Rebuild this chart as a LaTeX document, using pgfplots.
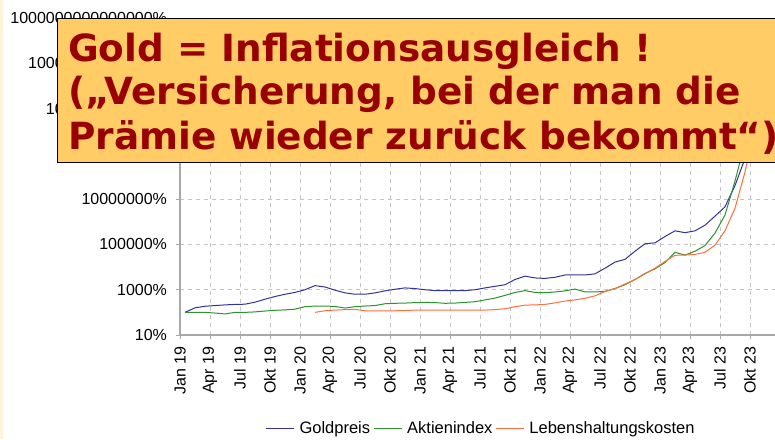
\documentclass[border=0pt]{standalone}
\usepackage{pgfplots}
\pgfplotsset{compat=1.18}
\usepackage{pgfplotstable}
\usepackage{fontspec}
\setmainfont{Liberation Sans}
\newfontfamily\boxfont{DejaVu Sans}
\definecolor{goldc}{HTML}{333399}
\definecolor{aktc}{HTML}{2E922E}
\definecolor{lebc}{HTML}{FF6F3C}
\definecolor{boxfill}{HTML}{FFCC66}
\definecolor{boxtext}{HTML}{990000}
\definecolor{gridc}{HTML}{C4C4C4}
\definecolor{axisc}{HTML}{A8A8A8}
\definecolor{stripc}{HTML}{FFF4D8}

% x = month index (Jan 19 = 0) + 0.5 ; values = log10 of percent
\pgfplotstableread{
x g a l
0.5 2.00 2.00 nan
1.5 2.20 2.00 nan
2.5 2.27 2.00 nan
3.5 2.30 1.97 nan
4.5 2.33 1.93 nan
5.5 2.35 2.00 nan
6.5 2.36 2.00 nan
7.5 2.45 2.02 nan
8.5 2.58 2.06 nan
9.5 2.70 2.09 nan
10.5 2.80 2.11 nan
11.5 2.88 2.14 nan
12.5 3.00 2.25 nan
13.5 3.18 2.28 2.00
14.5 3.12 2.28 2.07
15.5 2.98 2.26 2.10
16.5 2.86 2.19 2.12
17.5 2.80 2.25 2.13
18.5 2.80 2.28 2.07
19.5 2.86 2.30 2.06
20.5 2.95 2.38 2.06
21.5 3.02 2.40 2.07
22.5 3.08 2.41 2.08
23.5 3.05 2.43 2.10
24.5 3.00 2.44 2.10
25.5 2.96 2.43 2.10
26.5 2.96 2.40 2.10
27.5 2.96 2.41 2.10
28.5 2.96 2.44 2.10
29.5 3.00 2.47 2.10
30.5 3.08 2.55 2.10
31.5 3.15 2.63 2.12
32.5 3.22 2.75 2.16
33.5 3.45 2.88 2.25
34.5 3.60 2.96 2.32
35.5 3.52 2.88 2.33
36.5 3.50 2.87 2.35
37.5 3.55 2.90 2.42
38.5 3.65 2.95 2.50
39.5 3.65 3.03 2.55
40.5 3.65 2.90 2.62
41.5 3.70 2.90 2.73
42.5 3.95 2.93 2.92
43.5 4.22 3.05 3.05
44.5 4.34 3.22 3.25
45.5 4.70 3.45 3.45
46.5 5.03 3.72 3.70
47.5 5.07 3.92 3.95
48.5 5.35 4.20 4.25
49.5 5.60 4.65 4.52
50.5 5.52 4.53 4.53
51.5 5.60 4.70 4.56
52.5 5.85 4.95 4.65
53.5 6.25 5.50 4.97
54.5 6.66 6.30 5.60
55.5 7.60 7.80 6.60
56.5 8.80 9.50 8.20
57.5 11.00 11.50 10.30
58.5 13.80 13.50 13.00
59.5 14.20 14.00 13.80
}\datatable

\begin{document}
\begin{tikzpicture}[x=1pt,y=1pt]
\useasboundingbox (0,0) rectangle (775,439);
\fill[white] (0,0) rectangle (775,439);
\fill[stripc] (0,0) rectangle (2.5,439);
\begin{axis}[
  at={(180pt,104pt)}, anchor=south west,
  scale only axis, width=595pt, height=317pt,
  xmin=0, xmax=59.5, ymin=1, ymax=15,
  axis lines=left,
  axis line style={-, draw=axisc, line width=1.2pt},
  tick style={draw=axisc, line width=0.8pt},
  tick align=outside, major tick length=4pt,
  grid=major,
  major grid style={draw=gridc, dash pattern=on 4pt off 4pt, line width=0.9pt},
  xtick={0,3,...,57},
  xticklabels={Jan 19,Apr 19,Jul 19,Okt 19,Jan 20,Apr 20,Jul 20,Okt 20,Jan 21,Apr 21,Jul 21,Okt 21,Jan 22,Apr 22,Jul 22,Okt 22,Jan 23,Apr 23,Jul 23,Okt 23},
  ytick={1,3,...,15},
  yticklabels={10\%,1000\%,100000\%,10000000\%,1000000000\%,100000000000\%,10000000000000\%,1000000000000000\%},
  /pgf/number format/assume math mode=true,
  xticklabel shift=4pt,
  yticklabel shift=5.5pt,
  xticklabel style={rotate=90, anchor=east, font=\fontsize{16}{16}\selectfont},
  yticklabel style={font=\fontsize{16}{16}\selectfont},
  legend style={at={(0.506,-0.295)}, anchor=center, draw=none, fill=none,
    legend columns=-1, font=\fontsize{16.5}{16.5}\selectfont,
    /tikz/every even column/.append style={column sep=1pt},
    /tikz/every odd column/.append style={column sep=3pt}},
  legend image code/.code={\draw[#1] (0pt,0pt) -- (28pt,0pt);},
  every axis plot/.append style={line width=1pt},
]
\addplot[goldc, no markers] table[x=x, y=g] {\datatable};
\addlegendentry{Goldpreis}
\addplot[aktc, no markers] table[x=x, y=a] {\datatable};
\addlegendentry{Aktienindex}
\addplot[lebc, no markers] table[x=x, y=l] {\datatable};
\addlegendentry{Lebenshaltungskosten}
\end{axis}
\draw[fill=boxfill, draw=black, line width=1pt] (57,276) rectangle (795,420);
\begin{scope}[every node/.style={anchor=base west, inner sep=0pt, text=boxtext, font=\boxfont\bfseries\fontsize{37.4}{40}\selectfont}]
\node at (68,377) {Gold = Inflationsausgleich !};
\node at (68,334) {(„Versicherung, bei der man die};
\node at (68,289) {Prämie wieder zurück bekommt“)};
\end{scope}
\end{tikzpicture}
\end{document}
